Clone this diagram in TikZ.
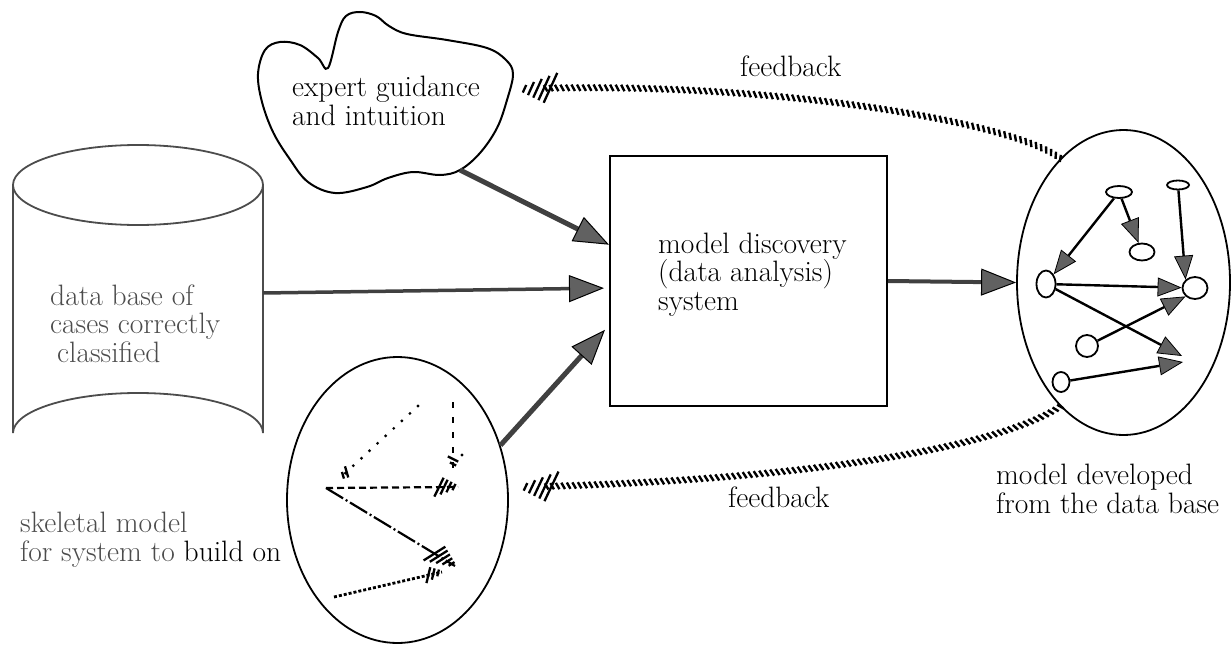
\documentclass[tikz,border=0pt]{standalone}
\usetikzlibrary{arrows.meta,decorations.markings,calc,shapes.geometric}
\newcommand\hatchmark[2]{%
  \foreach \k in {1,...,#1}{%
    \pgfmathsetmacro\hx{-#2*\k+1}%
    \pgfmathsetmacro\hh{0.42*#2*\k+1}%
    \draw[solid,line width=2.3pt,line cap=butt,black] (\hx+0.5*\hh,-\hh) -- (\hx-0.5*\hh,\hh);%
  }%
}
\begin{document}
\begin{tikzpicture}[x=1pt,y=-1pt,
  txt/.style={font=\fontsize{29.5}{28.5}\selectfont, inner sep=0pt, align=left, anchor=base west},
  cyl/.style={line width=1.8pt, draw=black!70},
  bigarr/.style={line width=#1, draw=black!75, -{Triangle[length=35pt,width=27pt,line width=1pt,color=black,fill=black!62]}},
  mnode/.style={draw, ellipse, line width=1.8pt, inner sep=0pt, fill=white},
  marr/.style={line width=2.4pt, -{Triangle[length=24pt,width=19pt,line width=0.8pt,color=black,fill=black!62]}},
  hatchto/.style 2 args={postaction={decorate,decoration={markings,reset marks,mark=at position 1 with {\hatchmark{#1}{#2}}}}},
  rope/.style={postaction={decorate, decoration={markings,reset marks,
     mark=between positions 0 and 0.95 step 5.5pt with {\draw[solid,line width=2.4pt,line cap=butt,black] (-1.7,-3.2) -- (1.7,3.2);}}}},
  skdot/.style={line width=3.2pt, dash pattern=on 0pt off 11pt, line cap=round},
  skdash/.style={line width=2.2pt, dash pattern=on 7pt off 4pt},
  skvert/.style={line width=2.2pt, dash pattern=on 6pt off 9pt},
  sklong/.style={line width=2.2pt, dash pattern=on 20pt off 3pt on 2pt off 3pt},
  skdense/.style={line width=2.8pt, dash pattern=on 3pt off 2pt}
]
\useasboundingbox (0,0) rectangle (1232,645);

% data base cylinder
\draw[cyl] (13,185) -- (13,433) arc[start angle=180,end angle=360,x radius=125,y radius=40] -- (263,185);
\draw[cyl] (138,185) ellipse[x radius=125,y radius=40];
\coordinate (dbE) at (263,293);
\node[txt, text=black!70] (dbtext) at (50,362) {data base of\\cases correctly\\\hspace*{7pt}classified};

% cloud
\draw[line width=2pt] plot[smooth cycle, tension=0.6] coordinates {
 (258,74) (262,102) (273,132) (289,158) (308,182) (335,193) (367,187) (388,178) (413,172)
 (440,175) (460,170) (480,153) (497,128) (507,100) (513,74) (506,60) (487,48) (447,40)
 (407,34) (389,26) (376,16) (360,12) (346,16) (338,32) (328,68) (318,58) (300,45) (280,42) (265,50)};
\coordinate (cloudS) at (460,170);
\node[txt] (cloudtext) at (292,125) {expert guidance\\and intuition};

% central box
\node[draw, line width=2pt, minimum width=277pt, minimum height=250pt, inner sep=0pt] (box) at (748.5,281) {};
\node[txt] (boxtext) at (658,310) {model discovery\\(data analysis)\\system};

% skeletal model ellipse
\node[draw, ellipse, line width=1.8pt, minimum width=221pt, minimum height=286pt, inner sep=0pt] (skel) at (397.5,500) {};
\coordinate (P1) at (326,488);
\coordinate (P2) at (418,406);
\coordinate (P3) at (453,402);
\coordinate (h1) at (340,478);
\coordinate (h2) at (453,468);
\coordinate (h3) at (458,487);
\coordinate (h4) at (455,566);
\coordinate (P4) at (334,597);
\coordinate (h5) at (442,572);
\draw[skdot, hatchto={2}{5}] (P2) -- (h1);
\draw[skvert, hatchto={2}{5}] (P3) -- (h2);
\draw[skdash, hatchto={4}{5}] (P1) -- (h3);
\draw[sklong, hatchto={5}{5}] (P1) -- (h4);
\draw[skdense, hatchto={3}{5}] (P4) -- (h5);
\fill (462,455) circle[radius=1.6];
\node[txt, text=black!70] (skeltext) at (20,561) {skeletal model\\for system to {\color{black}build on}};

% model developed ellipse
\node[draw, ellipse, line width=1.8pt, minimum width=213pt, minimum height=305pt, inner sep=0pt] (model) at (1123.5,282.5) {};
\node[mnode, minimum width=26pt, minimum height=12pt] (a) at (1119,192) {};
\node[mnode, minimum width=22pt, minimum height=9pt] (b) at (1178,185) {};
\node[mnode, minimum width=25pt, minimum height=17pt] (c) at (1142,252) {};
\node[mnode, minimum width=19pt, minimum height=27pt] (d) at (1046,284) {};
\node[mnode, minimum width=25pt, minimum height=22pt] (e) at (1195,288) {};
\node[mnode, minimum width=22pt, minimum height=22pt] (f) at (1087,346) {};
\node[mnode, minimum width=17pt, minimum height=20pt] (g) at (1061,382) {};
\coordinate (X1) at (1182,356);
\coordinate (X2) at (1183,362);
\draw[marr] (a) -- (d);
\draw[marr] (a) -- (c);
\draw[marr] (b) -- (e.north west);
\draw[marr] (d) -- (e);
\draw[marr] (d) -- (X1);
\draw[marr] (f) -- (e.south west);
\draw[marr] (g) -- (X2);
\node[txt] (mdltext) at (996,513) {model developed\\from the data base};

% main arrows
\draw[bigarr=5pt] (cloudS) -- ($(box.north west)!0.356!(box.south west)$);
\draw[bigarr=3.5pt, shorten >=5pt] (dbE) -- ($(box.north west)!0.528!(box.south west)$);
\draw[bigarr=5pt, shorten >=6pt] (skel.28) -- ($(box.north west)!0.676!(box.south west)$);
\draw[bigarr=4pt] (box.east) -- (model.west);

% feedback loops
\coordinate (fbT) at (519,89);
\coordinate (fbB) at (520,487);
\path[rope, hatchto={5}{6.5}] (model.117) .. controls (1010,120) and (760,80) .. (fbT);
\path[rope, hatchto={5}{6.5}] (model.243.5) .. controls (985,455) and (760,482) .. (fbB);
\node[txt] (fb1) at (740,76) {feedback};
\node[txt] (fb2) at (728,507) {feedback};
\end{tikzpicture}
\end{document}
